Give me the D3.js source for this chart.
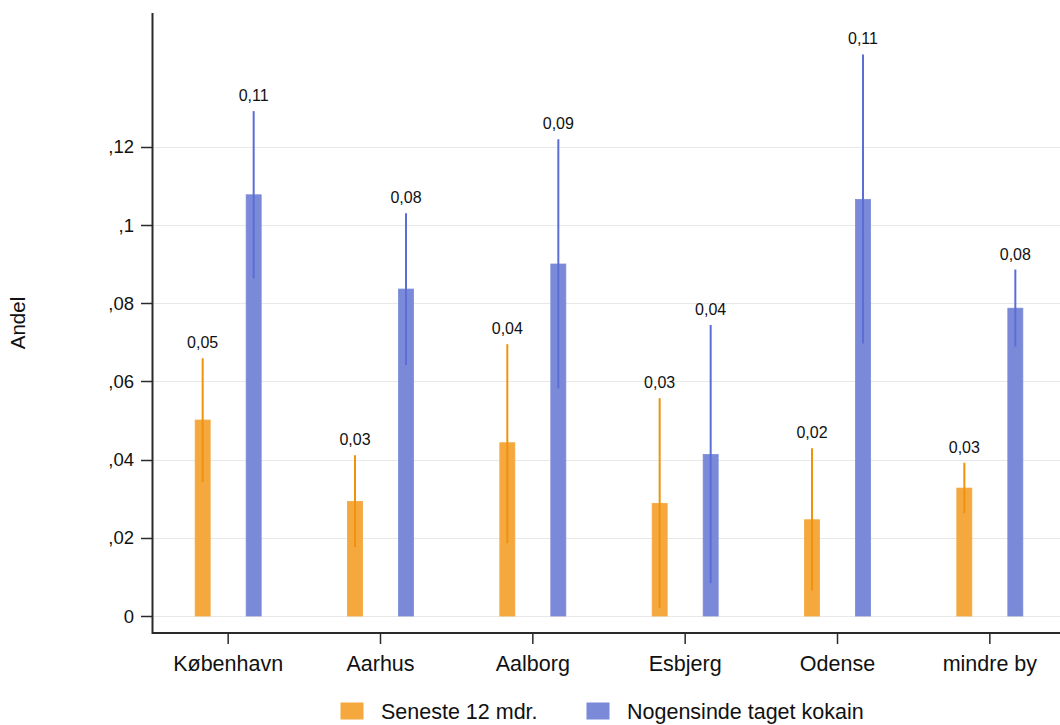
<!DOCTYPE html>
<html>
<head>
<meta charset="utf-8">
<script src="https://cdn.jsdelivr.net/npm/d3@7/dist/d3.min.js"></script>
<style>
  html, body { margin: 0; padding: 0; background: #fff; }
  svg { display: block; font-family: "Liberation Sans", Arial, sans-serif; }
</style>
</head>
<body>
<svg id="chart" width="1060" height="725"></svg>
<script>
const categories = ["København", "Aarhus", "Aalborg", "Esbjerg", "Odense", "mindre by"];
const seriesNames = ["Seneste 12 mdr.", "Nogensinde taget kokain"];
const seriesColors = ["#f4a83e", "#7b8ad8"];
const errorColors = ["#f0920c", "#5b6dd6"];

const lastYear = [0.0501, 0.0293, 0.0443, 0.0288, 0.0246, 0.0327];
const lastYearLow = [0.0343, 0.0176, 0.0186, 0.0020, 0.0065, 0.0263];
const lastYearHigh = [0.0659, 0.0411, 0.0695, 0.0557, 0.0429, 0.0392];
const lastYearLabels = ["0,05", "0,03", "0,04", "0,03", "0,02", "0,03"];

const ever = [0.1077, 0.0836, 0.0900, 0.0413, 0.1065, 0.0787];
const everLow = [0.0863, 0.0642, 0.0582, 0.0084, 0.0697, 0.0689];
const everHigh = [0.1291, 0.1030, 0.1219, 0.0744, 0.1436, 0.0886];
const everLabels = ["0,11", "0,08", "0,09", "0,04", "0,11", "0,08"];

const yTicks = [0, 0.02, 0.04, 0.06, 0.08, 0.10, 0.12];
const yTickLabels = ["0", ",02", ",04", ",06", ",08", ",1", ",12"];
const yTitle = "Andel";

(function () {
const svg = d3.select("#chart");
const plotLeft = 152, plotRight = 1066, plotTop = 13, zeroY = 616, axisY = 633;

const y = d3.scaleLinear().domain([0, 0.12]).range([zeroY, zeroY - 469.3]);
const x = d3.scaleBand().domain(categories).range([plotLeft, plotRight]).padding(0);
const bw = x.bandwidth();
const xs = d3.scalePoint().domain(seriesNames).range([bw / 2 - 25.5, bw / 2 + 25.5]);
const barW = 15;

// gridlines
svg.append("g").selectAll("line").data(yTicks).join("line")
  .attr("x1", plotLeft).attr("x2", 1060)
  .attr("y1", d => Math.round(y(d)) + 0.5).attr("y2", d => Math.round(y(d)) + 0.5)
  .attr("stroke", "#e8e8e8").attr("stroke-width", 1);

const data = [
  { name: seriesNames[0], vals: lastYear, lo: lastYearLow, hi: lastYearHigh, labels: lastYearLabels, i: 0 },
  { name: seriesNames[1], vals: ever, lo: everLow, hi: everHigh, labels: everLabels, i: 1 }
];

data.forEach(s => {
  const g = svg.append("g");
  const rows = categories.map((c, k) => ({ c, v: s.vals[k], lo: s.lo[k], hi: s.hi[k], lab: s.labels[k] }));
  const cx = d => x(d.c) + xs(s.name);
  g.selectAll("rect").data(rows).join("rect")
    .attr("x", d => cx(d) - barW / 2)
    .attr("y", d => y(d.v))
    .attr("width", barW)
    .attr("height", d => y(0) - y(d.v))
    .attr("fill", seriesColors[s.i])
    .attr("stroke", seriesColors[s.i])
    .attr("stroke-width", 0.8);
  g.selectAll("line.err").data(rows).join("line")
    .attr("class", "err")
    .attr("x1", cx).attr("x2", cx)
    .attr("y1", d => y(d.lo)).attr("y2", d => y(d.hi))
    .attr("stroke", errorColors[s.i]).attr("stroke-width", 2);
  g.selectAll("text").data(rows).join("text")
    .attr("x", cx)
    .attr("y", d => y(d.hi) - 10)
    .attr("text-anchor", "middle")
    .attr("font-size", 16)
    .attr("fill", "#111")
    .text(d => d.lab);
});

// y axis
const yAxis = svg.append("g");
yAxis.append("line").attr("x1", plotLeft + 0.5).attr("x2", plotLeft + 0.5).attr("y1", plotTop).attr("y2", axisY + 1)
  .attr("stroke", "#2a2a2a").attr("stroke-width", 2);
yAxis.selectAll("line.tick").data(yTicks).join("line").attr("class", "tick")
  .attr("x1", plotLeft - 11).attr("x2", plotLeft)
  .attr("y1", d => Math.round(y(d)) + 0.5).attr("y2", d => Math.round(y(d)) + 0.5)
  .attr("stroke", "#2a2a2a").attr("stroke-width", 1.5);
yAxis.selectAll("text").data(yTicks).join("text")
  .attr("x", plotLeft - 18).attr("y", d => y(d))
  .attr("dy", "0.36em")
  .attr("text-anchor", "end").attr("font-size", 18.5).attr("fill", "#111")
  .text((d, k) => yTickLabels[k]);

// x axis
const xAxis = svg.append("g");
xAxis.append("line").attr("x1", plotLeft).attr("x2", 1060).attr("y1", axisY).attr("y2", axisY)
  .attr("stroke", "#2a2a2a").attr("stroke-width", 2);
xAxis.selectAll("line.tick").data(categories).join("line").attr("class", "tick")
  .attr("x1", d => x(d) + bw / 2).attr("x2", d => x(d) + bw / 2)
  .attr("y1", axisY).attr("y2", axisY + 11)
  .attr("stroke", "#2a2a2a").attr("stroke-width", 1.5);
xAxis.selectAll("text").data(categories).join("text")
  .attr("x", d => x(d) + bw / 2).attr("y", 671)
  .attr("text-anchor", "middle").attr("font-size", 21.5).attr("fill", "#111")
  .text(d => d);

// y title
svg.append("text")
  .attr("transform", "translate(25,323) rotate(-90)")
  .attr("text-anchor", "middle").attr("font-size", 20.5).attr("fill", "#111")
  .text(yTitle);

// legend
const legendX = [341, 587];
const leg = svg.append("g");
seriesNames.forEach((n, k) => {
  leg.append("rect").attr("x", legendX[k]).attr("y", 703).attr("width", 22).attr("height", 16)
    .attr("fill", seriesColors[k]).attr("stroke", seriesColors[k]);
  leg.append("text").attr("x", legendX[k] + 40).attr("y", 719)
    .attr("font-size", 21.5).attr("fill", "#111").text(n);
});
})();
</script>
</body>
</html>
